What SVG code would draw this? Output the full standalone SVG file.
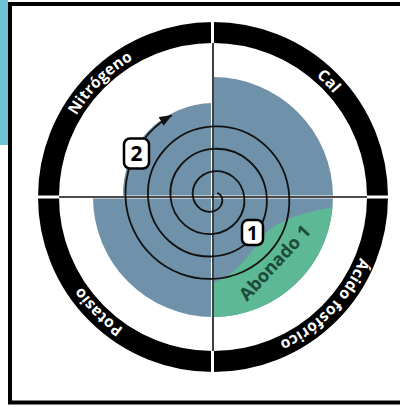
<svg xmlns="http://www.w3.org/2000/svg" xmlns:xlink="http://www.w3.org/1999/xlink" width="400" height="407" viewBox="0 0 400 407">
  <style>
    .ring-text { font-family: "Open Sans", "Liberation Sans", sans-serif; font-weight: bold; font-size: 15.5px; letter-spacing: 0.3px; fill: #ffffff; }
    .cross { stroke: #111; stroke-width: 1.6; fill: none; }
    .gap { stroke: #fff; stroke-width: 3; }
    .spiral { stroke: #111; stroke-width: 1.8; fill: none; }
    .badge rect { fill: #fff; stroke: #000; stroke-width: 2.5; }
    .badge text { font-family: "Open Sans", "Liberation Sans", sans-serif; font-weight: bold; fill: #000; text-anchor: middle; }
  </style>
  <defs>
    <path id="ringPath" d="M372,197 A159,159 0 1 1 54,197 A159,159 0 1 1 372,197"/>
    <marker id="arrow" markerUnits="userSpaceOnUse" markerWidth="16" markerHeight="12" refX="12" refY="5" orient="auto">
      <path d="M0,0 L13,5 L0,10 Z" fill="#111"/>
    </marker>
  </defs>

  <rect x="0" y="0" width="400" height="407" fill="#fff"/>
  <rect id="side-bar" x="0" y="0" width="8" height="145" fill="#6ec3d3"/>
  <rect id="frame" x="10" y="4" width="400" height="398.5" fill="none" stroke="#000" stroke-width="4"/>

  <g id="disk">
    <path d="M213,77 A120,120 0 1 1 93,197 L123,197 A91,91 0 0 1 213,103 Z" fill="#6f91a9"/>
    <path d="M332.5,207 A120,120 0 0 1 213,317 L213,283 C235,275 250,255 262,237 C275,222 300,213 332.5,207 Z" fill="#5cb895"/>
  </g>

  <g id="ring">
    <circle cx="213" cy="197" r="164.5" fill="none" stroke="#000" stroke-width="21"/>
    <text class="ring-text"><textPath xlink:href="#ringPath" startOffset="62.6%" text-anchor="middle">Nitrógeno</textPath></text>
    <text class="ring-text"><textPath xlink:href="#ringPath" startOffset="87.5%" text-anchor="middle">Cal</textPath></text>
    <text class="ring-text"><textPath xlink:href="#ringPath" startOffset="12.2%" text-anchor="middle">Ácido fosfórico</textPath></text>
    <text class="ring-text"><textPath xlink:href="#ringPath" startOffset="37.5%" text-anchor="middle">Potasio</textPath></text>
  </g>

  <g id="connectors">
    <line class="gap" x1="212.5" y1="20" x2="212.5" y2="374"/>
    <line class="gap" x1="36" y1="197" x2="390" y2="197"/>
    <line class="cross" x1="213" y1="43" x2="213" y2="351"/>
    <line class="cross" x1="59" y1="197" x2="367" y2="197"/>
    <path class="spiral" marker-end="url(#arrow)" d="M217.2,192.8 A7.35,7.35 0 0 1 221.75,197 A10.16,10.16 0 0 1 221.18,205.18 A12.97,12.97 0 0 1 213,211.38 A15.79,15.79 0 0 1 200.84,209.16 A18.6,18.6 0 0 1 193,197 A21.41,21.41 0 0 1 196.86,180.86 A24.22,24.22 0 0 1 213,171.37 A27.04,27.04 0 0 1 233.11,176.89 A29.85,29.85 0 0 1 244.25,197 A32.66,32.66 0 0 1 237.09,221.09 A35.47,35.47 0 0 1 213,233.88 A38.29,38.29 0 0 1 184.93,225.07 A41.1,41.1 0 0 1 170.5,197 A43.91,43.91 0 0 1 180.95,164.95 A46.72,46.72 0 0 1 213,148.87 A49.54,49.54 0 0 1 249.02,160.98 A52.35,52.35 0 0 1 266.75,197 A55.16,55.16 0 0 1 253,237 A57.97,57.97 0 0 1 213,256.38 A60.79,60.79 0 0 1 169.03,240.97 A63.6,63.6 0 0 1 148,197 A66.41,66.41 0 0 1 165.04,149.04 A69.22,69.22 0 0 1 213,126.37 A72.04,72.04 0 0 1 264.93,145.07 A74.85,74.85 0 0 1 289.25,197 A77.66,77.66 0 0 1 268.91,252.91 A80.47,80.47 0 0 1 213,278.88 A83.29,83.29 0 0 1 153.12,256.88 A86.1,86.1 0 0 1 125.5,197 A88.91,88.91 0 0 1 149.13,133.13 A90.9,90.9 0 0 1 171.5,115.5"/>
  </g>

  <g id="label-abonado">
    <text x="275" y="269" transform="rotate(-47 275 263)" font-family="Open Sans, Liberation Sans, sans-serif" font-weight="bold" font-size="18" fill="#1d4a3a" text-anchor="middle">Abonado 1</text>
  </g>

  <g id="badge-1" class="badge">
    <rect x="242" y="220" width="21" height="25" rx="6"/>
    <text x="252.5" y="239.5" font-size="19">1</text>
  </g>
  <g id="badge-2" class="badge">
    <rect x="124" y="138.5" width="25" height="30" rx="6"/>
    <text x="136.5" y="160.5" font-size="21">2</text>
  </g>
</svg>
